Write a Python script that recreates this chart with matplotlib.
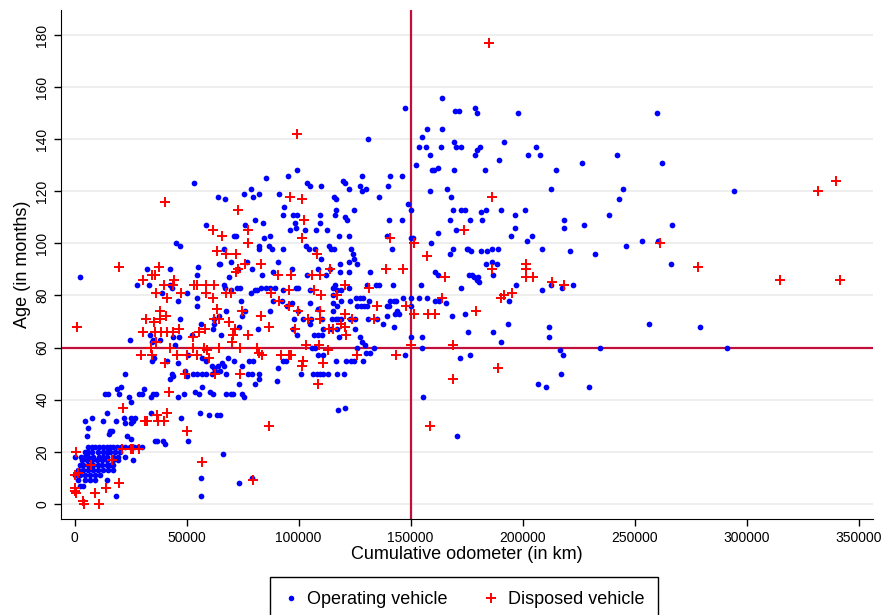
import matplotlib
matplotlib.use('Agg')
import matplotlib.pyplot as plt
from matplotlib.lines import Line2D

plt.rcParams['font.family'] = ['Liberation Sans', 'DejaVu Sans']

# operating vehicles: cumulative odometer (km) and age (months)
op_km = [
    # 0-80k, 20-50 months
    13500, 15000, 19900, 20700, 19000, 24400, 25000, 28900, 30000, 30900, 33900, 35100, 36300, 46300,
    48800, 53700, 55600, 56700, 60400, 61600, 67500, 69600, 70800, 74500, 75600, 73300, 80500,
    4700, 7900, 12800, 14300, 18400, 22000, 22500, 25000, 25900, 26900, 25000, 33900, 47500, 55900,
    60000, 63400, 64900,
    5900, 15800, 16500, 15500, 23200, 25300, 5600, 35800, 36600, 39600, 40300, 50400,
    # young vehicles near zero
    6100, 7600, 9100, 11000, 12500, 14300, 15800, 17200, 19000, 20700, 22600, 24700, 26500, 28400, 29900,
    4600, 6100, 7600, 10600, 12800, 14300, 15800, 18000, 20200,
    100, 2700, 4600, 6100, 8300, 11000, 12800, 14300, 17200, 19500, 22500,
    3100, 5300, 7600, 9800, 12000, 14300, 17200, 19500, 25900,
    2400, 3900, 6100, 8300, 10600, 12000, 14300, 15800, 17200,
    1600, 3900, 6100, 8300, 10600, 12800, 15000, 17200,
    100, 2400, 4600, 6800, 9100, 11300,
    1600, 4600, 6800, 9100, 14300,
    2400, 3900,
    66400, 56200, 73300, 56200, 18400, 79000,
    # 0-80k, 50-110 months
    58500, 75900, 71300, 72000, 66800, 45200, 47000, 2400, 28000, 32100, 33300, 42500, 55000, 54700,
    64300, 64900, 69600, 76800, 79300, 72900, 68900, 72300, 73800, 66600, 67200, 69600, 42500, 43300,
    38800, 50000, 54400, 46300, 54400, 74200, 78600, 67500, 64300, 74500, 76200, 47000, 56200, 62300,
    61900, 62200, 65300, 73500, 33600, 46700, 52200, 44000, 24700, 34800, 44800, 38100, 34400, 35400,
    34400, 41400, 46300, 50400, 56700, 58600, 61100, 62300, 64100, 65900, 66600, 68300, 71300, 74700,
    77700, 79400, 22500, 43300, 42500, 44000, 49200, 50300, 53000, 54700, 56700, 58500, 61100, 62600,
    64900, 67500, 77200, 79100,
    53200, 64000, 67200, 75400, 78900, 79400,
    # 80k-165k, above 105 months
    147600, 164100, 131100, 157100, 155200, 153800, 156700, 163500, 163800, 158800, 152200, 159500,
    160200, 162300, 158600, 148900, 150000, 99200, 95100, 85200, 103800, 105200, 110000, 119900,
    120500, 122400, 128100, 127200, 128100, 130200, 140000, 140800, 146100, 135800, 115900, 116600,
    91300, 82300, 93600, 93000, 97600, 99100, 109400, 116000, 116500, 124800, 120500, 121600, 140500,
    146300, 80600,
    # 80k-165k, 45-108 months
    83900, 87200, 84700, 96100, 98300, 98800, 102800, 109500, 107600, 112800, 118100, 122600, 139300,
    150100, 151200, 162300, 159000, 82300, 86700, 88200, 82400, 93100, 103300, 104700, 107300, 113500,
    114400, 115900, 123300, 124100, 141500, 124700, 125900, 122600, 90900, 97100, 109800, 108800,
    114000, 118400, 118400, 112200, 122600, 131800, 83500, 88700, 103800, 130600, 134500, 135800,
    142200, 154400, 160800, 162000, 122400, 116200, 115200, 80500, 81500, 83200, 85400, 87200, 89400,
    93100, 98800, 99800, 105000, 117200, 118700, 115500, 122900, 125600, 127400, 128800, 131400,
    140800, 142500, 143300, 146400, 150000, 153700, 157100, 160800, 162600, 88700, 92700, 96900,
    105000, 115500, 117000, 118900, 125900, 127700, 129300, 130600, 139300, 140500, 150100, 87200,
    94900, 99500, 108800, 115500, 143700, 97900, 102100, 105500, 110200, 114700, 116500, 117400,
    118700, 122900, 125100, 131100, 135100, 139300, 143000, 144800, 97600, 105000, 110700, 114300,
    117200, 125100, 137500, 142700, 82000, 99100, 106800, 108800, 110200, 118100, 127400, 128100,
    129600, 150100, 155200, 106100, 107300, 126200, 130000, 131800, 133800, 147400, 155200, 108800,
    110700, 116500, 121100, 123200, 124800, 128500, 93100, 94300, 90900, 101000, 106500, 108000,
    109500, 111000, 112900, 117000, 120400, 82400, 82400,
    90200, 117400, 120700, 155500,
    # beyond 165k
    169800, 171600, 178700, 179400, 197700, 169500, 170400, 172400, 191600, 178700, 179700, 180800,
    189300, 202400, 206100, 207600, 226600, 242200, 169300, 183300, 215000, 166200, 168100, 212500,
    244600, 243000, 169000, 172400, 174400, 181500, 183500, 190500, 196700, 201200, 167700, 176500,
    182000, 218600, 227500, 238400,
    170200, 196500, 194600, 204000, 201800, 218600, 168700, 167500, 175000, 175700, 176800, 181200,
    184200, 186100, 189100, 208800, 221100, 232400, 246200, 183600, 186400, 188400, 176200, 177200,
    178400, 180200, 180600, 179700, 186600, 172400, 197000, 208500, 212600, 217400, 222300, 165700,
    193900, 168600, 174200, 175600, 186900, 193600, 211700, 211600, 190200, 216600, 217800, 234500,
    171900, 176500, 217200, 207000, 210200, 229600, 170500,
    259900, 262300, 294500, 266500, 253200, 260200, 266200, 256400, 279300, 291200,
]
op_age = [
    42, 42, 42, 45, 44, 41, 39, 42, 42, 44, 41, 42, 42, 41,
    42, 43, 42, 45, 43, 42, 42, 42, 42, 42, 41, 46, 46,
    32, 33, 32, 35, 32, 33, 31, 33, 32, 33, 31, 35, 33, 35,
    34, 34, 34,
    29, 28, 28, 27, 26, 25, 26, 24, 24, 24, 23, 24,
    22, 22, 22, 22, 22, 22, 22, 22, 22, 22, 22, 22, 22, 22, 22,
    20, 20, 20, 20, 20, 20, 20, 20, 20,
    18, 18, 18, 18, 18, 18, 18, 18, 18, 18, 18,
    17, 17, 17, 17, 17, 17, 17, 17, 17,
    15, 15, 15, 15, 15, 15, 15, 15, 15,
    13, 13, 13, 13, 13, 13, 13, 13,
    11, 11, 11, 11, 11, 11,
    9, 9, 9, 9, 9,
    7, 7,
    19, 10, 8, 3, 3, 10,
    107, 107, 103, 103, 98, 100, 99, 87, 84, 90, 84, 90, 91, 88,
    92, 92, 93, 93, 90, 90, 87, 83, 83, 84, 83, 82, 84, 83,
    81, 81, 79, 78, 76, 78, 81, 74, 72, 72, 74, 71, 69, 71,
    67, 69, 65, 68, 65, 64, 65, 64, 63, 63, 61, 63, 62, 56,
    55, 55, 54, 57, 56, 55, 53, 52, 53, 54, 53, 56, 55, 53,
    55, 55, 50, 50, 48, 49, 51, 49, 50, 50, 50, 50, 50, 51,
    51, 50, 50, 50,
    123, 118, 117, 119, 121, 118,
    152, 156, 140, 144, 141, 137, 137, 137, 144, 134, 130, 128,
    128, 129, 120, 115, 113, 128, 126, 125, 123, 122, 122, 124,
    123, 121, 126, 122, 120, 121, 122, 126, 126, 118, 118, 117,
    119, 119, 114, 111, 111, 111, 111, 111, 113, 113, 110, 109, 109,
    109, 109,
    108, 103, 102, 105, 108, 106, 105, 108, 105, 105, 103, 103, 103,
    102, 102, 104, 100, 99, 99, 98, 98, 98, 99, 98, 98, 99,
    98, 98, 98, 96, 98, 94, 92, 93, 93, 90, 94, 90,
    90, 92, 89, 88, 89, 89, 88, 89, 88, 84, 84, 84,
    84, 84, 89, 88, 83, 84, 83, 82, 82, 83, 83, 83, 83,
    82, 83, 83, 82, 82, 82, 80, 78, 79, 79, 79, 78,
    78, 78, 78, 79, 79, 79, 79, 78, 78, 78, 78, 77,
    77, 77, 76, 78, 76, 76, 76, 76, 76, 76, 76, 74,
    76, 74, 75, 74, 74, 71, 71, 71, 71, 71, 71, 71,
    71, 71, 71, 71, 71, 72, 73, 73, 67, 69, 67, 67,
    67, 67, 69, 68, 67, 65, 65, 65, 65, 64, 64, 62,
    61, 64, 64, 60, 60, 60, 58, 58, 60, 57, 60, 57,
    57, 55, 55, 55, 55, 55, 55, 55, 52, 50, 50, 50,
    50, 50, 50, 50, 50, 50, 48,
    47, 36, 37, 41,
    151, 151, 152, 150, 150, 139, 137, 137, 139, 134, 136, 137,
    132, 134, 137, 134, 131, 134, 128, 128, 128, 121, 118, 121,
    121, 117, 113, 113, 113, 112, 113, 113, 111, 113, 109, 109,
    109, 109, 107, 111,
    105, 106, 103, 103, 101, 106, 98, 96, 98, 98, 97, 97,
    97, 98, 98, 98, 97, 96, 99, 92, 93, 92, 88, 88,
    87, 87, 85, 86, 88, 83, 84, 82, 84, 83, 84, 77,
    78, 72, 73, 66, 66, 69, 68, 64, 62, 59, 57, 60,
    56, 57, 50, 46, 45, 45, 26,
    150, 131, 120, 107, 101, 101, 92, 69, 68, 60,
]

# disposed vehicles
disp_km = [
    21700, 42200, 36600, 37300, 40000, 31400, 32100, 41400, 50000, 21300, 25100, 25900, 28900, 16500,
    7300, 600, 56700, 100, 1600, 0, 100, 600, 9100, 14000, 19900, 3600, 4200, 10800, 79700,
    61900, 65900, 77200, 77200, 63400, 67500, 71900, 76000, 73000, 72000, 19900, 37600, 34400, 35800,
    30600, 44500, 40000, 43700, 53400, 54700, 58500, 62200, 36300, 47300, 58500, 67500, 69600, 41100,
    61600, 38100, 63400, 74800, 40800, 31800, 35400, 38100, 62200, 64400, 68900, 71600, 77200, 30300,
    35800, 38400, 41400, 43700, 46700, 55600, 58200, 70800, 53000, 70100, 36300, 34200, 42500, 52700,
    57700, 58900, 64600, 73800, 29400, 34400, 45500, 50300, 54700, 60000, 40300, 49200, 62600, 73800,
    1200,
    40300, 72900, 99200, 96100, 101500, 102500,
    101300, 108000, 140800, 151500, 157400, 139000, 146700, 83200, 90900, 96400, 105800, 109500,
    114000, 120700, 131400, 87500, 95800, 106800, 109800, 117000, 91300, 95800, 99800, 109500, 83000,
    86700, 134800, 147700, 151600, 157900, 160800, 164100, 120700, 104300, 109500, 123600, 133600,
    98300, 113700, 115500, 118700, 120700, 121000, 103300, 109200, 81200, 82400, 83800, 113200, 91900,
    95800, 96400, 101800, 101300, 110700, 126200, 143300, 150000,
    108800, 86900, 158800,
    184800, 186300,
    173900, 186100, 201300, 201300, 201300, 204700, 165300, 213200, 218400, 195400, 191800, 190300,
    179100, 169000, 189100, 169000,
    331800, 339800, 261300, 278400, 315100, 341800,
]
disp_age = [
    37, 43, 34, 32, 32, 32, 32, 35, 28, 21, 21, 21, 21, 17,
    15, 20, 16, 11, 12, 6, 5, 4, 4, 6, 8, 1, 0, 0, 9,
    105, 103, 105, 100, 97, 96, 96, 92, 90, 89, 91, 91, 88, 88,
    86, 86, 84, 84, 84, 84, 84, 84, 81, 81, 81, 81, 81, 79,
    79, 74, 75, 74, 72, 71, 70, 71, 71, 71, 70, 67, 65, 66,
    66, 66, 66, 66, 67, 66, 67, 65, 64, 62, 62, 60, 60, 60,
    60, 59, 60, 60, 57, 57, 57, 57, 57, 56, 54, 50, 50, 50,
    68,
    116, 113, 142, 118, 117, 109,
    102, 96, 102, 100, 95, 90, 90, 92, 88, 88, 88, 88,
    90, 84, 83, 81, 82, 82, 80, 80, 78, 76, 74, 74, 72,
    68, 76, 76, 73, 73, 73, 79, 73, 71, 71, 71, 71,
    67, 67, 67, 69, 68, 65, 61, 61, 60, 58, 57, 59, 57,
    57, 57, 55, 53, 54, 57, 57, 61,
    46, 30, 30,
    177, 118,
    105, 90, 92, 90, 87, 87, 87, 85, 84, 81, 80, 79,
    74, 61, 52, 48,
    120, 124, 100, 91, 86, 86,
]

x_ticks = [0, 50000, 100000, 150000, 200000, 250000, 300000, 350000]
y_ticks = [0, 20, 40, 60, 80, 100, 120, 140, 160, 180]
ref_km = 150000
ref_age = 60

fig = plt.figure(figsize=(8.81, 6.15), dpi=100)
ax = fig.add_axes([61 / 881, 1 - 519 / 615, (873 - 61) / 881, (519 - 10) / 615])

ax.scatter(op_km, op_age, s=17, marker='o', color='#0000ff', linewidths=0, zorder=3)
ax.scatter(disp_km, disp_age, s=48, marker='+', color='#ff0000', linewidths=1.4, zorder=4)

ax.axhline(ref_age, color='#c0103a', lw=1.6, zorder=2)
ax.axvline(ref_km, color='#c0103a', lw=1.6, zorder=2)

ax.set_xlim(-6100, 356400)
ax.set_ylim(-5.8, 189.6)
ax.set_xticks(x_ticks)
ax.set_xticklabels([str(t) for t in x_ticks])
ax.set_yticks(y_ticks)
ax.set_yticklabels([str(t) for t in y_ticks], rotation=90, va='center')
ax.tick_params(labelsize=10, length=5, width=1, direction='out')
ax.yaxis.grid(True, color='#eeeeee', lw=1.4)
ax.set_axisbelow(True)
for side in ['top', 'right']:
    ax.spines[side].set_visible(False)

ax.set_xlabel('Cumulative odometer (in km)', fontsize=13, labelpad=1)
ax.set_ylabel('Age (in months)', fontsize=13, labelpad=3)

handles = [
    Line2D([], [], ls='none', marker='o', color='#0000ff', markersize=4, mew=0),
    Line2D([], [], ls='none', marker='+', color='#ff0000', markersize=7, mew=1.4),
]
fig.legend(handles, ['Operating vehicle', 'Disposed vehicle'], loc='upper center',
           bbox_to_anchor=(464 / 881, 1 - 577 / 615), ncol=2, fontsize=13,
           frameon=True, fancybox=False, edgecolor='black', framealpha=1,
           handletextpad=0.5, columnspacing=2.0, borderpad=0.8, handlelength=0.8,
           borderaxespad=0)

fig.savefig('out.png', dpi=100)
